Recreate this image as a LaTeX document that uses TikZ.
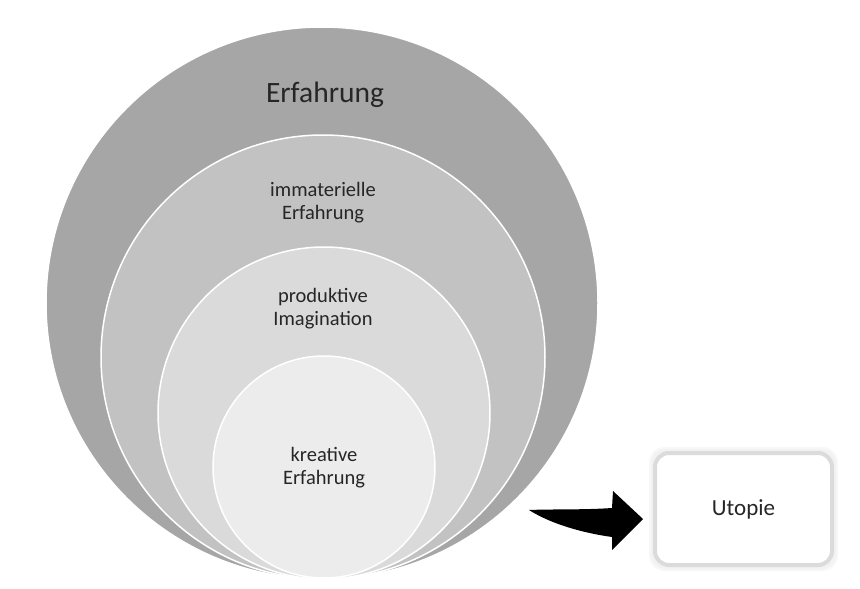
\documentclass[tikz,border=0pt]{standalone}
\usepackage{fontspec}
\setmainfont{Carlito}
\usepackage{tikz}
\usetikzlibrary{calc}
\definecolor{grauaussen}{gray}{0.65}
\definecolor{grauzwei}{gray}{0.76}
\definecolor{graudrei}{gray}{0.855}
\definecolor{grauinnen}{gray}{0.925}
\definecolor{schrift}{gray}{0.15}
\definecolor{rahmen}{gray}{0.86}

\begin{document}
\begin{tikzpicture}[x=1pt,y=-1pt]
			\useasboundingbox (0,0) rectangle (860,589);
			\draw [white,line width=1.5pt,fill=grauaussen] (322,303) circle (276);
			\draw [white,line width=1.5pt,fill=grauzwei] (323,357) circle (222);
			\draw [white,line width=1.5pt,fill=graudrei] (324,413) circle (166);
			\draw [white,line width=1.5pt,fill=grauinnen] (324,467) circle (111);
			
			\node[text=schrift,font=\fontsize{29.5}{33}\selectfont] (erfahrung) at (325,95) {Erfahrung};
			\node[text=schrift,font=\fontsize{20.5}{23}\selectfont,align=center] (immateriell) at (323,203) {immaterielle\\Erfahrung};
			\node[text=schrift,font=\fontsize{20.5}{23}\selectfont,align=center] (produktiv) at (323,309) {produktive\\Imagination};
			\node[text=schrift,font=\fontsize{20.5}{23}\selectfont,align=center] (kreativ) at (324,468) {kreative\\Erfahrung};
			
			% Utopie-Kasten mit leichtem Schatten
			\draw [rounded corners=16pt,fill=black!3,draw=none] (649,447) rectangle (838,571);
			\draw [rounded corners=15pt,fill=black!5,draw=none] (651,449) rectangle (836,569);
			\node[draw=rahmen,line width=4pt,fill=white,rounded corners=14pt,minimum width=177,minimum height=112,text=schrift,font=\fontsize{23}{26}\selectfont] (utopie) at (743.5,509) {Utopie};
			
			\coordinate (spitze) at ($(utopie.west)+(-10,10)$);
			\fill [black] ($(spitze)+(-114,-9)$) .. controls ($(spitze)+(-90,-10)$) and ($(spitze)+(-60,-9)$) .. ($(spitze)+(-31,-11)$) -- ($(spitze)+(-30,-28)$) -- (spitze) -- ($(spitze)+(-31,31)$) -- ($(spitze)+(-31,18)$) .. controls ($(spitze)+(-60,14)$) and ($(spitze)+(-92,5)$) .. ($(spitze)+(-114,-9)$) -- cycle;
		\end{tikzpicture}
\end{document}
